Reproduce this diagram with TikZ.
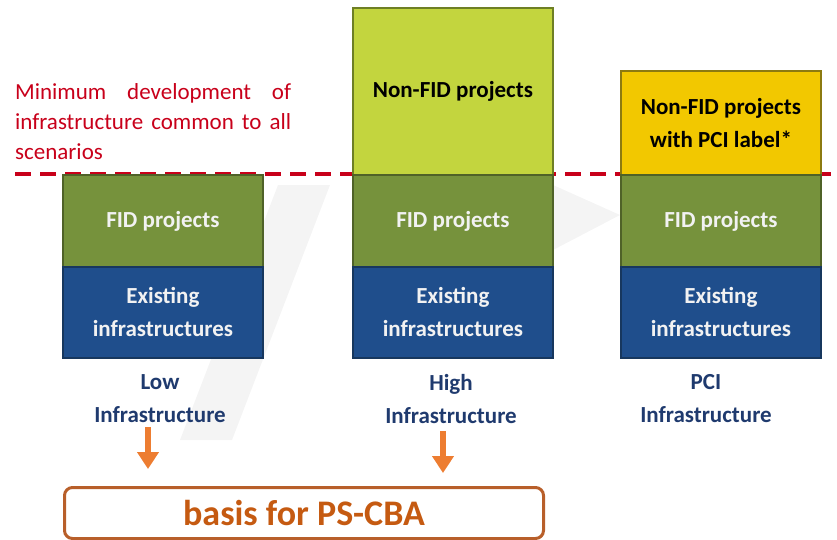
\documentclass[tikz,border=0pt]{standalone}
\usepackage{fontspec}
\setmainfont{Carlito}
\usetikzlibrary{arrows.meta}
\definecolor{fidgreen}{HTML}{76923C}
\definecolor{fidborder}{HTML}{4F6228}
\definecolor{exblue}{HTML}{1F4E8C}
\definecolor{exborder}{HTML}{17375E}
\definecolor{nonfid}{HTML}{C3D53E}
\definecolor{nonfidborder}{HTML}{6E7F24}
\definecolor{pciyellow}{HTML}{F2C800}
\definecolor{pciborder}{HTML}{8C7A10}
\definecolor{labblue}{HTML}{1F3A6E}
\definecolor{minred}{HTML}{C8001A}
\definecolor{arrorange}{HTML}{ED7D31}
\definecolor{basisborder}{HTML}{B85F2A}
\definecolor{basistext}{HTML}{C55A11}
\definecolor{wm}{HTML}{F4F4F4}
\tikzset{
  blk/.style={draw, line width=1.8pt, anchor=north west, minimum width=200pt, inner sep=0pt, align=center, font=\bfseries\fontsize{23}{33}\selectfont},
  fidbox/.style={blk, fill=fidgreen, draw=fidborder, text=white!95!black, minimum height=92pt},
  exbox/.style={blk, fill=exblue, draw=exborder, text=white!95!black, minimum height=91pt},
  nonfidbox/.style={blk, fill=nonfid, draw=nonfidborder, text=black},
  pcibox/.style={blk, fill=pciyellow, draw=pciborder, text=black},
  scenlab/.style={anchor=center, align=center, text=labblue, font=\bfseries\fontsize{23}{33}\selectfont},
  orarrow/.style={draw=arrorange, line width=6pt, -{Triangle[width=21pt,length=17pt]}},
}
\begin{document}
\begin{tikzpicture}[x=1pt,y=-1pt]
\useasboundingbox (0,0) rectangle (837,539);
% faint watermark arrow
\fill[wm] (180,440) -- (232,440) -- (330,185) -- (278,185) -- cycle;
\fill[wm] (553,185) -- (620,215) -- (553,250) -- cycle;
% dashed reference line
\coordinate (dl) at (15,174);
\coordinate (dr) at (837,174);
\draw[minred, line width=3.4pt, dash pattern=on 16pt off 9pt] (dl) -- (dr);
\node[anchor=north west, inner sep=0pt, text width=276pt, align=left, text=minred, font=\fontsize{23}{30}\selectfont] (minlab) at (15,83)
  {Minimum\hfill development\hfill of\\infrastructure\hfill common\hfill to\hfill all\\scenarios};
% column 1
\node[fidbox] (fid1) at (62,174) {FID projects};
\node[exbox] (ex1) at (62,266) {Existing\\infrastructures};
\node[scenlab] (lab1) at (160,399) {Low\\Infrastructure};
% column 2
\node[nonfidbox, minimum height=167pt] (non2) at (352,7) {Non-FID projects};
\node[fidbox] (fid2) at (352,174) {FID projects};
\node[exbox] (ex2) at (352,266) {Existing\\infrastructures};
\node[scenlab] (lab2) at (451,399) {High\\Infrastructure};
% column 3
\node[pcibox, minimum height=104pt] (non3) at (620,70) {Non-FID projects\\with PCI label*};
\node[fidbox] (fid3) at (620,174) {FID projects};
\node[exbox] (ex3) at (620,266) {Existing\\infrastructures};
\node[scenlab] (lab3) at (706,399) {PCI\\Infrastructure};
% basis box
\node[draw=basisborder, line width=3pt, rounded corners=8pt, anchor=north west, minimum width=479pt, minimum height=51pt, inner sep=0pt, text=basistext, font=\bfseries\fontsize{36}{38}\selectfont] (basis) at (63,486) {basis for PS-CBA};
% arrows
\coordinate (a1s) at (148,427);
\coordinate (a1e) at (148,469);
\coordinate (a2s) at (443,431);
\coordinate (a2e) at (443,473);
\draw[orarrow] (a1s) -- (a1e);
\draw[orarrow] (a2s) -- (a2e);
\end{tikzpicture}
\end{document}
